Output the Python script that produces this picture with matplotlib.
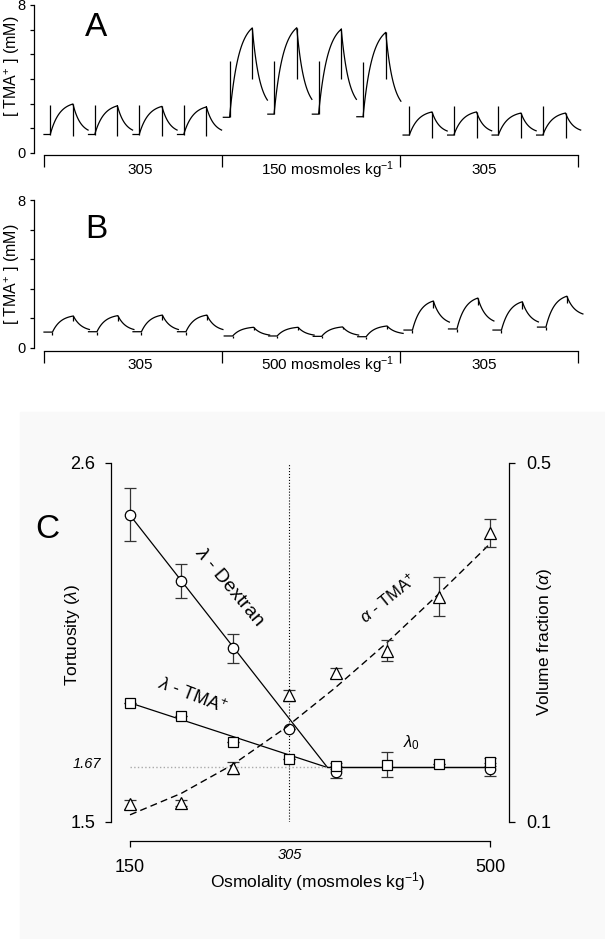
import numpy as np
import matplotlib
matplotlib.use("Agg")
import matplotlib.pyplot as plt
from matplotlib.patches import Rectangle
from matplotlib.transforms import blended_transform_factory

plt.rcParams['font.family'] = ['Liberation Sans', 'DejaVu Sans']
plt.rcParams['mathtext.fontset'] = 'custom'
plt.rcParams['mathtext.rm'] = 'Liberation Sans'
plt.rcParams['mathtext.it'] = 'Liberation Sans:italic'

W, H = 605, 939

#%% data

# panel A: one value per diffusion cycle (mM), 4 cycles per bath
a_base = [1.0, 1.0, 1.0, 1.0, 1.93, 2.1, 2.1, 1.96, 0.97, 0.97, 0.97, 0.97]
a_peak = [2.65, 2.55, 2.52, 2.49, 6.76, 6.77, 6.69, 6.52, 2.22, 2.22, 2.16, 2.16]
a_end = [1.24, 1.24, 1.24, 1.24, 2.86, 2.9, 2.9, 2.8, 1.19, 1.2, 1.2, 1.24]
a_onset_art = [2.6, 2.6, 2.6, 2.6, 4.97, 4.97, 4.97, 4.9, 2.54, 2.54, 2.54, 2.54]
a_peak_art = [0.92, 0.92, 0.92, 0.92, 4.0, 4.0, 4.0, 4.0, 0.81, 0.81, 0.81, 0.81]
a_labels = ['305', '150 mosmoles kg$^{-1}$', '305']

# panel B
b_base = [0.86, 0.88, 0.88, 0.88, 0.65, 0.65, 0.63, 0.61, 0.97, 1.03, 0.97, 1.13]
b_peak = [1.73, 1.75, 1.78, 1.78, 1.12, 1.12, 1.14, 1.19, 2.54, 2.70, 2.50, 2.80]
b_end = [1.0, 1.0, 1.0, 1.0, 0.7, 0.7, 0.7, 0.79, 1.40, 1.46, 1.41, 1.84]
b_onset_art = [0.7, 0.72, 0.72, 0.72, 0.55, 0.55, 0.53, 0.51, 0.8, 0.86, 0.8, 0.96]
b_peak_art = [1.45, 1.47, 1.5, 1.5, 0.98, 0.98, 1.0, 1.05, 2.16, 2.32, 2.12, 2.42]
b_labels = ['305', '500 mosmoles kg$^{-1}$', '305']

# panel C
osm = [150, 200, 250, 305, 350, 400, 450, 500]
dex_osm = [150, 200, 250, 305, 350, 500]
dex_lam = [2.441, 2.239, 2.032, 1.785, 1.653, 1.662]
dex_err = [0.081, 0.052, 0.044, 0.0, 0.018, 0.02]
tma_lam = [1.865, 1.825, 1.745, 1.693, 1.672, 1.675, 1.678, 1.684]
tma_err = [0.0, 0.0, 0.0, 0.0, 0.01, 0.038, 0.0, 0.012]
alpha = [0.12, 0.121, 0.16, 0.241, 0.266, 0.291, 0.351, 0.422]
alpha_err = [0.005, 0.003, 0.007, 0.006, 0.006, 0.012, 0.022, 0.016]

fit_osm = [150, 342, 500]
dex_fit = [2.44, 1.667, 1.667]
tma_fit = [1.865, 1.667, 1.667]
alpha_fit_osm = [150, 200, 250, 300, 350, 400, 450, 500]
alpha_fit = [0.108, 0.132, 0.164, 0.204, 0.250, 0.300, 0.354, 0.410]
lam0 = 1.667

#%%


def px_box(left, top, right, bottom):
    return [left / W, 1 - bottom / H, (right - left) / W, (bottom - top) / H]


def draw_traces(ax, base, peak, end, onset_art, peak_art, shifts, t_on, t_pk, t_end):
    rise = np.linspace(0, 1, 40)
    fall = np.linspace(0, 1, 30)
    rise_f = (1 - np.exp(-rise / 0.4)) / (1 - np.exp(-1 / 0.4))
    fall_f = (np.exp(-fall / 0.5) - np.exp(-2)) / (1 - np.exp(-2))
    for i in range(12):
        t0 = i + shifts[i // 4]
        t = np.concatenate([[t0], t0 + t_on + rise * (t_pk - t_on),
                            t0 + t_pk + fall * (t_end - t_pk)])
        c = np.concatenate([[base[i]], base[i] + (peak[i] - base[i]) * rise_f,
                            end[i] + (peak[i] - end[i]) * fall_f])
        ax.plot(t, c, color='k', lw=0.9)
        ax.vlines(t0 + t_on, min(base[i], onset_art[i]), max(base[i], onset_art[i]),
                  color='k', lw=0.9)
        ax.vlines(t0 + t_pk, peak_art[i], peak[i], color='k', lw=0.9)


def style_trace_axes(ax, nticks, bracket_offset, labels, label_y):
    ax.set_xlim(-0.225, 12.27)
    ax.set_ylim(0, 8)
    ax.set_facecolor('none')
    for s in ['top', 'right']:
        ax.spines[s].set_visible(False)
    ax.spines['left'].set_linewidth(0.9)
    ax.spines['bottom'].set_linewidth(0.9)
    ax.spines['bottom'].set_bounds(0, 12)
    ax.spines['bottom'].set_position(('outward', bracket_offset))
    ax.set_xticks([0, 4, 8, 12])
    ax.set_xticklabels([])
    ax.tick_params(axis='x', direction='out', length=8.5, width=0.9)
    yt = np.linspace(0, 8, nticks)
    ax.set_yticks(yt)
    ax.set_yticklabels(['0'] + [''] * (nticks - 2) + ['8'], fontsize=10.5)
    ax.tick_params(axis='y', direction='out', length=3, width=0.9, pad=3)
    tr = blended_transform_factory(ax.transData, fig.transFigure)
    for x, lab in zip([2.16, 6.38, 9.9], labels):
        ax.text(x, 1 - label_y / H, lab, transform=tr, ha='center', va='center', fontsize=11)


fig = plt.figure(figsize=(W / 100, H / 100), dpi=100)

# light background behind panel C
fig.patches.append(Rectangle((20 / W, 0), (W - 20) / W, (H - 412) / H,
                             transform=fig.transFigure, color='#f9f9f9', zorder=-10))

axA = fig.add_axes(px_box(34, 5, 590, 153))
draw_traces(axA, a_base, a_peak, a_end, a_onset_art, a_peak_art, [0, 0.03, 0.07], 0.14, 0.65, 0.99)
style_trace_axes(axA, 7, 1.5, a_labels, 170)
fig.text(96 / W, 1 - 28 / H, 'A', fontsize=24, ha='center', va='center')
fig.text(12 / W, 1 - 66 / H, '[ TMA$^{+}$ ] (mM)', rotation=90, fontsize=11.5, ha='center', va='center')

axB = fig.add_axes(px_box(34, 200, 590, 348))
draw_traces(axB, b_base, b_peak, b_end, b_onset_art, b_peak_art, [0, 0.05, 0.09], 0.19, 0.66, 1.02)
style_trace_axes(axB, 6, 2.2, b_labels, 365)
fig.text(96 / W, 1 - 230 / H, 'B', fontsize=24, ha='center', va='center')
fig.text(12 / W, 1 - 274 / H, '[ TMA$^{+}$ ] (mM)', rotation=90, fontsize=11.5, ha='center', va='center')

# panel C
ax = fig.add_axes(px_box(111, 463, 509, 822))
ax.set_facecolor('none')
ax.set_xlim(131.5, 518.5)
ax.set_ylim(1.5, 2.6)
for s in ['top', 'right']:
    ax.spines[s].set_visible(False)
ax.spines['left'].set_linewidth(0.9)
ax.spines['bottom'].set_linewidth(0.9)
ax.spines['bottom'].set_position(('outward', 13.7))
ax.spines['bottom'].set_bounds(150, 500)
ax.set_xticks([150, 500])
ax.set_xticklabels(['150', '500'], fontsize=13)
ax.tick_params(axis='x', direction='out', length=4.3, width=0.9, pad=9)
ax.set_yticks([1.5, 2.6])
ax.set_yticklabels(['1.5', '2.6'], fontsize=13)
ax.tick_params(axis='y', direction='out', length=4.3, width=0.9, pad=7)

ax.axvline(305, color='k', ls=':', lw=0.8)
ax.plot(fit_osm[:2], [lam0, lam0], color='#aaaaaa', ls=':', lw=1.0)
ax.plot(fit_osm, dex_fit, color='k', lw=0.9, zorder=1)
ax.plot(fit_osm, tma_fit, color='k', lw=0.9, zorder=1)
ax.errorbar(dex_osm, dex_lam, yerr=dex_err, fmt='none', ecolor='#333333',
            capsize=4, elinewidth=0.9, capthick=0.9, zorder=2)
ax.plot(dex_osm, dex_lam, 'o', ms=7.5, mfc='white', mec='k', mew=0.9, zorder=3)
ax.errorbar(osm, tma_lam, yerr=tma_err, fmt='none', ecolor='#333333',
            capsize=4, elinewidth=0.9, capthick=0.9, zorder=4)
ax.plot(osm, tma_lam, 's', ms=7, mfc='white', mec='k', mew=0.9, zorder=5)

ax2 = ax.twinx()
ax2.set_facecolor('none')
ax2.set_ylim(0.1, 0.5)
for s in ['top', 'left', 'bottom']:
    ax2.spines[s].set_visible(False)
ax2.spines['right'].set_linewidth(0.9)
ax2.set_yticks([0.1, 0.5])
ax2.set_yticklabels(['0.1', '0.5'], fontsize=13)
ax2.tick_params(axis='y', direction='out', length=4.3, width=0.9, pad=8)
ax2.plot(alpha_fit_osm, alpha_fit, color='k', lw=1.0, dashes=(5, 3), zorder=1)
ax2.errorbar(osm, alpha, yerr=alpha_err, fmt='none', ecolor='#333333',
             capsize=4, elinewidth=0.9, capthick=0.9, zorder=2)
ax2.plot(osm, alpha, '^', ms=8, mfc='white', mec='k', mew=0.9, zorder=3)

ax.text(246, 2.22, r'$\lambda$ - Dextran', rotation=-50, rotation_mode='anchor',
        ha='center', va='center', fontsize=14)
ax.text(211, 1.886, r'$\lambda$ - TMA$^{+}$', rotation=-21, rotation_mode='anchor',
        ha='center', va='center', fontsize=13)
ax.text(401, 2.186, r'$\alpha$ - TMA$^{+}$', rotation=39, rotation_mode='anchor',
        ha='center', va='center', fontsize=12)
ax.text(424, 1.742, r'$\lambda_0$', ha='center', va='center', fontsize=12)

trC = blended_transform_factory(ax.transData, fig.transFigure)
ax.text(305, 1 - 855 / H, '305', transform=trC, ha='center', va='center',
        fontsize=10.5, style='italic')
fig.text(87 / W, 1 - 764 / H, '1.67', ha='center', va='center', fontsize=10.5, style='italic')
fig.text(47 / W, 1 - 530 / H, 'C', fontsize=24, ha='center', va='center')
fig.text(72 / W, 1 - 635 / H, r'Tortuosity ($\lambda$)', rotation=90, fontsize=12.5,
         ha='center', va='center')
fig.text(545 / W, 1 - 642 / H, r'Volume fraction ($\alpha$)', rotation=90, fontsize=12.5,
         ha='center', va='center')
fig.text(318 / W, 1 - 882 / H, 'Osmolality (mosmoles kg$^{-1}$)', fontsize=12.5,
         ha='center', va='center')

fig.savefig('out.png', dpi=100)
